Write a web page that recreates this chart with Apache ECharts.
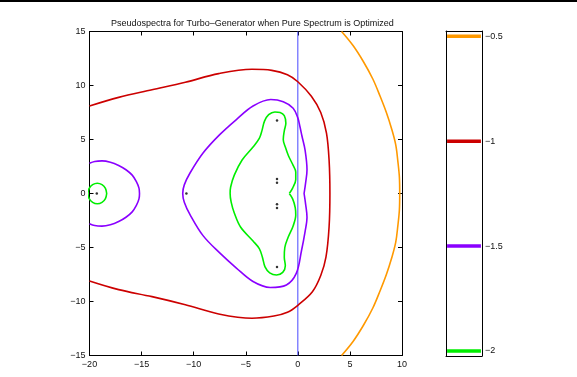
<!DOCTYPE html>
<html>
<head>
<meta charset="utf-8">
<script src="https://cdn.jsdelivr.net/npm/echarts@6/dist/echarts.min.js"></script>
<style>
  html, body { margin: 0; padding: 0; background: #fff; }
</style>
</head>
<body>
<div id="main" style="width: 577px;height:377px;"></div>
<script>
// contour levels (log10 epsilon) and colours
var levels = [-0.5, -1, -1.5, -2]
var levelColors = ['#ff9900', '#cc0000', '#8a00ff', '#00ee00']

// contour -0.5
var orange = [[4.2,15],[5.3,13.7],[6.3,12.2],[7.2,10.6],[7.9,9],[8.5,7.5],[9.0,6],[9.4,4.5],[9.6,3],[9.75,1.5],[9.78,0],
  [9.75,-1.5],[9.6,-3],[9.4,-4.5],[9.0,-6],[8.5,-7.5],[7.9,-9],[7.2,-10.6],[6.3,-12.2],[5.3,-13.7],[4.2,-15]]

// contour -1
var red = [[-20,8.1],[-17.2,8.9],[-14,9.6],[-10.8,10.3],[-7.6,11.1],[-4.4,11.5],[-2.5,11.4],[-1,11],[0,10.35],[1.3,9],
  [2.2,7.5],[2.75,5.6],[3.0,3.1],[3.08,0],[3.0,-3.1],[2.7,-5.9],[2.2,-7.6],[1.4,-9.1],[0,-10.35],[-1,-11],[-2.3,-11.35],
  [-4.4,-11.55],[-7.6,-11.15],[-10.8,-10.3],[-14,-9.55],[-17.2,-8.9],[-20,-8.1]]

// contour -1.5 (two pieces)
var purpleLeft = [[-20,2.8],[-19.5,2.97],[-18.8,3.02],[-18,2.9],[-17.2,2.6],[-16.5,2.2],[-15.9,1.7],[-15.5,1.1],[-15.25,0.5],
  [-15.2,0],[-15.25,-0.5],[-15.5,-1.1],[-15.9,-1.7],[-16.5,-2.2],[-17.2,-2.6],[-18,-2.9],[-18.8,-3.02],[-19.5,-2.97],[-20,-2.8]]
var purpleMain = [[0.6,0],[0.75,1],[0.88,2.2],[0.7,4],[0.4,5.3],[0.2,6.2],[0,7],[-0.45,7.9],[-1.4,8.5],[-2.6,8.7],[-4.3,8.1],
  [-5.9,6.85],[-7.5,5.45],[-9.1,3.75],[-10.35,1.9],[-10.9,0.8],[-11.05,0],[-10.9,-0.8],[-10.35,-1.95],[-9.1,-3.9],[-7.5,-5.5],
  [-5.9,-6.9],[-4.3,-8.15],[-2.65,-8.7],[-1.1,-8.47],[-0.15,-7.4],[0.35,-5.3],[0.7,-3.5],[0.88,-2.2],[0.75,-1],[0.6,0]]

// contour -2 (two pieces)
var greenLeft = [[-18.35,0],[-18.47,0.475],[-18.8,0.82],[-19.25,0.95],[-19.7,0.82],[-20.03,0.475],[-20.15,0],[-20.03,-0.475],
  [-19.7,-0.82],[-19.25,-0.95],[-18.8,-0.82],[-18.47,-0.475],[-18.35,0]]
var greenMain = [[-0.82,0],[-0.5,0.5],[-0.2,1.3],[-0.2,2.0],[-0.45,2.6],[-0.9,3.5],[-1.2,4.3],[-1.4,5.0],[-1.3,5.8],[-1.15,6.5],
  [-1.3,7.2],[-1.7,7.5],[-2.2,7.55],[-2.8,7.3],[-3.2,6.7],[-3.45,5.8],[-3.7,5.1],[-4.3,4.3],[-5.35,3.1],[-6.1,1.7],[-6.45,0.6],
  [-6.5,0],[-6.4,-0.8],[-6.1,-1.8],[-5.5,-3.1],[-4.3,-4.4],[-3.7,-5.1],[-3.4,-5.9],[-3.15,-6.8],[-2.7,-7.35],[-2.05,-7.55],
  [-1.45,-7.3],[-1.2,-6.7],[-1.3,-5.9],[-1.25,-5.0],[-0.95,-4.1],[-0.45,-3.0],[-0.2,-2.0],[-0.25,-1.3],[-0.5,-0.5],[-0.82,0]]

// eigenvalues
var eigs = [[-19.3,0],[-10.7,0],[-2,6.75],[-2,1.35],[-2,1.0],[-2,-1.0],[-2,-1.35],[-2,-6.8]]

// imaginary axis
var imagAxis = [[0,-15],[0,15]]

var xTicks = [-20, -15, -10, -5, 0, 5, 10]
var yTicks = [-15, -10, -5, 0, 5, 10, 15]

var font = 'Liberation Sans, Arial, Helvetica, sans-serif'
function minus(v) { return String(v).replace('-', '\u2212') }

var myChart = echarts.init(document.getElementById('main'))

function contour(data, color, width) {
  return {
    type: 'line', xAxisIndex: 0, yAxisIndex: 0,
    data: data, showSymbol: false, smooth: 0.35, clip: true,
    lineStyle: { color: color, width: width || 1.6 }, silent: true, animation: false
  }
}

var labelStyle = { color: '#111', fontSize: 9, fontFamily: font }
var boxLine = { onZero: false, lineStyle: { color: '#000', width: 1 } }

var series = [
  { type: 'line', xAxisIndex: 0, yAxisIndex: 0, data: imagAxis, showSymbol: false,
    lineStyle: { color: '#4848ff', width: 1 }, animation: false },
  contour(orange, levelColors[0]),
  contour(red, levelColors[1]),
  contour(purpleLeft, levelColors[2]),
  contour(purpleMain, levelColors[2]),
  contour(greenLeft, levelColors[3]),
  contour(greenMain, levelColors[3]),
  { type: 'scatter', xAxisIndex: 0, yAxisIndex: 0, data: eigs, symbolSize: 2.5,
    itemStyle: { color: '#000' }, animation: false }
]
// colorbar lines
levels.forEach(function (lv, i) {
  series.push({
    type: 'line', xAxisIndex: 2, yAxisIndex: 2, data: [[0.03, lv], [0.97, lv]],
    showSymbol: false, lineStyle: { color: levelColors[i], width: 3.5 }, animation: false
  })
})

var option = {
  backgroundColor: '#fff',
  animation: false,
  title: {
    text: 'Pseudospectra for Turbo\u2013Generator when Pure Spectrum is Optimized',
    left: 106, top: 14,
    textStyle: { fontSize: 9, fontWeight: 'normal', color: '#111', fontFamily: font }
  },
  graphic: [{ type: 'rect', shape: { x: 0, y: 0, width: 577, height: 2 }, style: { fill: '#000' } }],
  grid: [
    { left: 89.5, top: 31.5, width: 312.5, height: 324 },
    { left: 446, top: 31, width: 36, height: 325 }
  ],
  xAxis: [
    { gridIndex: 0, type: 'value', min: -20, max: 10, interval: 5, position: 'bottom',
      axisLine: boxLine,
      axisTick: { inside: true, length: 4, lineStyle: { color: '#000' } },
      axisLabel: Object.assign({ margin: 5, formatter: minus, customValues: xTicks }, labelStyle),
      splitLine: { show: false } },
    { gridIndex: 0, type: 'value', min: -20, max: 10, interval: 5, position: 'top',
      axisLine: boxLine,
      axisTick: { inside: true, length: 4, lineStyle: { color: '#000' } },
      axisLabel: { show: false }, splitLine: { show: false } },
    { gridIndex: 1, type: 'value', min: 0, max: 1, position: 'bottom',
      axisLine: boxLine,
      axisTick: { show: false }, axisLabel: { show: false }, splitLine: { show: false } },
    { gridIndex: 1, type: 'value', min: 0, max: 1, position: 'top',
      axisLine: boxLine,
      axisTick: { show: false }, axisLabel: { show: false }, splitLine: { show: false } }
  ],
  yAxis: [
    { gridIndex: 0, type: 'value', min: -15, max: 15, interval: 5, position: 'left',
      axisLine: boxLine,
      axisTick: { inside: true, length: 4, lineStyle: { color: '#000' } },
      axisLabel: Object.assign({ margin: 4, formatter: minus, customValues: yTicks }, labelStyle),
      splitLine: { show: false } },
    { gridIndex: 0, type: 'value', min: -15, max: 15, interval: 5, position: 'right',
      axisLine: boxLine,
      axisTick: { inside: true, length: 4, lineStyle: { color: '#000' } },
      axisLabel: { show: false }, splitLine: { show: false } },
    { gridIndex: 1, type: 'value', min: -2.024, max: -0.475, position: 'right',
      axisLine: boxLine,
      axisTick: { show: false },
      axisLabel: Object.assign({ margin: 3, formatter: minus, customValues: levels }, labelStyle),
      splitLine: { show: false } },
    { gridIndex: 1, type: 'value', min: -2.024, max: -0.475, position: 'left',
      axisLine: boxLine,
      axisTick: { show: false }, axisLabel: { show: false }, splitLine: { show: false } }
  ],
  series: series
}

myChart.setOption(option)
</script>
</body>
</html>
